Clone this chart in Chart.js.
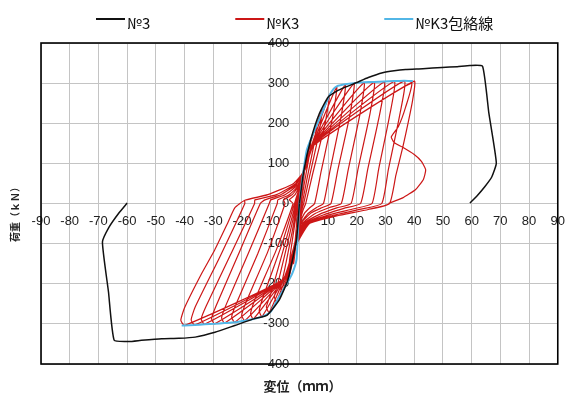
<!DOCTYPE html>
<html lang="ja">
<head>
  <meta charset="UTF-8">
  <title>荷重-変位</title>
  <script src="https://cdn.jsdelivr.net/npm/chart.js"></script>
  <style>
    html, body { margin: 0; padding: 0; background: #fff; }
    .chart-box { position: relative; width: 575px; height: 399px; }
  </style>
</head>
<body>
  <div class="chart-box">
    <canvas id="hysteresisChart"></canvas>
  </div>

  <script>
    // Axis ranges (mm / kN)
    const dispRange = [-90, 90, 10];
    const loadRange = [-400, 400, 100];

    // No3: monotonic push each way (displacement mm, load kN)
    const no3Pos = [[0,0],[1.5,80],[4,160],[7,225],[10,265],[13,280],[16,290],[19.8,301],[24,314],[29,326],[33,331],[37,334],
      [43,336],[49.7,339],[55,341],[59.4,344],[63.8,342],[66,225],[68.6,101],[67,66],[64.5,41],[62,20],[59.4,1]];
    const no3Neg = [[0,0],[-1,-90],[-4,-190],[-7,-240],[-11.2,-278],[-15.6,-287],[-22.5,-304],[-29.4,-321],[-36.3,-333],
      [-42,-336],[-48,-337],[-55,-341],[-59.4,-344],[-64.5,-341],[-66.5,-220],[-68.6,-96],[-66.3,-59],[-63,-25],[-60,1]];

    // NoK3 cyclic loops, small amplitudes (±2 ... ±13 mm)
    const k3Early = [
      [0,0],[1,55],[2,100],[1.7,74],[0.8,28],[0.3,0],[-0.2,-40],[-1,-90],[-2,-150],[-1.6,-105],[-0.9,-45],[-0.3,0],
      [0,28],[1.5,80],[2.8,130],[4,160],[3.4,118],[1.6,45],[0.6,0],[0.1,-35],[-1,-90],[-2.5,-150],[-4,-195],[-3.4,-140],[-1.8,-60],[-0.5,0],
      [0,30],[1.5,80],[3.5,145],[6,200],[5.1,148],[2.5,56],[1,0],[0.3,-30],[-1,-85],[-3,-155],[-6,-222],[-6.5,-212],[-5,-160],[-2.5,-70],[-0.8,0],
      [-0.4,15],[0,35],[1.5,85],[4,155],[8,235],[6.8,174],[3.5,66],[1.5,0],[0.7,-20],[0,-45],[-1.5,-95],[-4,-170],[-8,-245],[-8.7,-232],[-7,-185],[-3.5,-80],[-1,0],
      [-0.6,14],[0,38],[1.8,90],[4.5,150],[10.5,272],[9,201],[4.7,76],[2.2,0],[1.4,-14],[0.5,-35],[-0.5,-60],[-2,-110],[-5,-180],[-10.5,-272],[-11.5,-258],[-9.5,-215],[-5,-100],[-1.3,0],
      [-0.8,14],[0,40],[2,92],[4.5,145],[13,290],[11.6,215],[7.6,81],[5.3,0],[3.7,-10],[1.8,-24],[0,-52],[-2,-110],[-5,-180],[-13,-282],[-14,-268],[-12.5,-230],[-6.5,-110],[-1.7,0]
    ];

    // NoK3 cyclic loops, large amplitudes (±16 ... ±40 mm)
    const k3Late = [
      [-1.2,12],[-0.2,35],[2,92],[4.5,145],[16,296],[14.6,219],[10.7,83],[8.4,0],[6,-10],[3,-25],[0,-55],[-2,-112],[-5,-182],[-16,-288],[-17,-275],[-15.5,-240],[-8,-115],[-2.2,0],
      [-3.5,9],[-1.5,22],[0,45],[2,92],[4.5,145],[19,299],[17.6,221],[13.4,84],[11,0],[8,-10],[4,-24],[0.5,-50],[-2,-112],[-5,-182],[-19,-292],[-20.1,-279],[-18.5,-245],[-11,-120],[-5,0],
      [-5.5,9],[-2.5,22],[0,46],[2,92],[4.5,145],[22.5,301],[21.1,223],[17,84],[14.6,0],[10.5,-10],[5.5,-25],[1,-50],[-2,-112],[-5,-183],[-22.5,-296],[-23.6,-283],[-22,-250],[-14.5,-125],[-7.7,0],
      [-7.5,9],[-3.5,22],[0,47],[2,92],[4.5,145],[26,302],[24.6,224],[20.4,85],[18,0],[13,-11],[7,-27],[1.5,-50],[-2,-113],[-5,-184],[-26,-298],[-27.1,-285],[-25.5,-252],[-18,-128],[-10.5,0],
      [-10,9],[-5,22],[-0.5,47],[2,90],[4.5,145],[29.5,303],[28,224],[23.8,85],[21.3,0],[15.5,-12],[8.5,-28],[2,-50],[-2,-113],[-5,-185],[-29.5,-300],[-30.6,-287],[-29,-255],[-21.3,-128],[-13.6,0],
      [-12,9],[-6.5,22],[-1,48],[2,90],[4.5,145],[33,304],[31.6,225],[27.6,85],[25.3,0],[19,-13],[10,-29],[2.5,-50],[-2,-114],[-5,-185],[-33,-301],[-34.2,-288],[-32.5,-256],[-24,-128],[-15.6,0],
      [-15.5,9],[-8,22],[-1.5,48],[2,88],[4.5,145],[36.5,305],[35.1,226],[31,85],[28.7,0],[21.5,-14],[11.5,-30],[3,-50],[-2,-115],[-5,-186],[-36.5,-303],[-37.7,-290],[-36.3,-258],[-27.5,-130],[-19,0],
      [-19,8],[-11,22],[-2,50],[2,84],[5,145],[40,305],[39.5,260],[38,205],[36,140],[33.6,70],[31.4,0],[24,-15],[13,-31],[3.5,-50],[-2,-116],[-5,-187],[-40,-304],
      [-41.3,-291],[-40,-260],[-34,-174],[-29.5,-116],[-25,-49],[-22.5,-11]
    ];

    // NoK3 last reload and drop-off after the peak
    const k3Failure = [[-19,8],[-11,22],[-2,50],[2,84],[5,145],[39,300],[37,240],[34.5,192],[32,166],[33,152],[36,140],
      [40,122],[42.5,105],[44,84],[43.2,60],[40.5,35],[36,14],[31,0]];

    // NoK3 envelope
    const envPos = [[0,0],[1,60],[2.6,134],[5,178],[8,228],[10.5,270],[12,286],[13,292],[16,297],[19,300],[22.5,302],
      [26,303],[29.5,304],[33,305],[36.5,306],[39.5,305]];
    const envNeg = [[0,0],[-0.5,-70],[-1,-140],[-2.5,-175],[-4.3,-199],[-7.7,-241],[-10,-270],[-13,-282],[-16,-288],
      [-19,-292],[-22.5,-296],[-26,-298],[-29.5,-300],[-33,-301],[-36.5,-303],[-40,-304],[-41,-304]];

    const seriesNames = ['№3', '№K3', '№K3包絡線'];
    const seriesColors = ['#111111', '#cc1616', '#52b6e6'];
    const xTitle = '変位（ｍｍ）';
    const yTitle = '荷重（ｋＮ）';

    const toPoints = arr => arr.map(p => ({ x: p[0], y: p[1] }));

    function lineSet(label, pts, color, width, order) {
      return {
        label: label,
        data: toPoints(pts),
        showLine: true,
        borderColor: color,
        borderWidth: width,
        pointRadius: 0,
        tension: 0.15,
        fill: false,
        order: order
      };
    }

    // frame, legend row and axis titles
    const decorations = {
      id: 'decorations',
      afterDraw(chart) {
        const { ctx, chartArea: a } = chart;
        ctx.save();
        ctx.strokeStyle = '#000';
        ctx.lineWidth = 1.6;
        ctx.strokeRect(a.left, a.top, a.right - a.left, a.bottom - a.top);

        ctx.font = '15px "Noto Sans CJK JP"';
        ctx.textBaseline = 'middle';
        ctx.textAlign = 'left';
        let x = 96;
        seriesNames.forEach((name, i) => {
          ctx.strokeStyle = seriesColors[i];
          ctx.lineWidth = 2;
          ctx.beginPath();
          ctx.moveTo(x, 19);
          ctx.lineTo(x + 29, 19);
          ctx.stroke();
          ctx.fillStyle = '#111';
          ctx.fillText(name, x + 31, 23);
          x += 31 + ctx.measureText(name).width + 85;
        });

        ctx.font = 'bold 13px "Noto Sans CJK JP"';
        ctx.textAlign = 'center';
        ctx.fillStyle = '#222';
        ctx.fillText(xTitle, (a.left + a.right) / 2 + 3, 386);

        ctx.font = 'bold 10px "Noto Sans CJK JP"';
        ctx.translate(15, 212);
        ctx.rotate(-Math.PI / 2);
        ctx.fillText(yTitle, 0, 0);
        ctx.restore();
      }
    };

    const tickFont = { family: 'Liberation Sans, Arial, sans-serif', size: 13 };

    new Chart(document.getElementById('hysteresisChart'), {
      type: 'scatter',
      data: {
        datasets: [
          lineSet(seriesNames[0], no3Pos, seriesColors[0], 1.5, 1),
          lineSet(seriesNames[0], no3Neg, seriesColors[0], 1.5, 1),
          lineSet(seriesNames[2], envPos, seriesColors[2], 2, 2),
          lineSet(seriesNames[2], envNeg, seriesColors[2], 2, 2),
          lineSet(seriesNames[1], k3Early.concat(k3Late, k3Failure), seriesColors[1], 1.2, 3)
        ]
      },
      options: {
        responsive: true,
        maintainAspectRatio: false,
        animation: false,
        layout: { padding: { left: 41, right: 11, top: 43, bottom: 35 } },
        plugins: {
          legend: { display: false },
          tooltip: { enabled: false }
        },
        scales: {
          x: {
            type: 'linear',
            position: { y: 0 },
            min: dispRange[0],
            max: dispRange[1],
            border: { display: false },
            grid: { color: '#c4c4c4', lineWidth: 1, drawTicks: false },
            ticks: { stepSize: dispRange[2], autoSkip: false, maxRotation: 0, padding: 10, color: '#222', font: tickFont }
          },
          y: {
            type: 'linear',
            // labels sit a little left of the zero line
            position: { x: -3.5 },
            min: loadRange[0],
            max: loadRange[1],
            border: { display: false },
            grid: { color: '#c4c4c4', lineWidth: 1, drawTicks: false },
            ticks: {
              stepSize: loadRange[2],
              color: '#222',
              font: tickFont,
              callback: v => (v === loadRange[0] ? String(-v) : String(v))
            }
          }
        }
      },
      plugins: [decorations]
    });
  </script>
</body>
</html>
